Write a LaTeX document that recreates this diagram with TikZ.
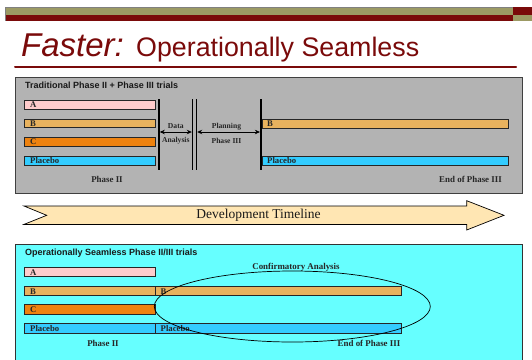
\documentclass[tikz,border=0pt]{standalone}
\usepackage{fontspec}
\setmainfont{Liberation Serif}
\newfontfamily\arialf{Liberation Sans}
\usetikzlibrary{arrows.meta}
\definecolor{bandolive}{HTML}{9C9A64}
\definecolor{dred}{HTML}{7A0A0A}
\definecolor{boxgray}{HTML}{B3B3B3}
\definecolor{boxcyan}{HTML}{66FFFF}
\definecolor{cA}{HTML}{FFCCCC}
\definecolor{cB}{HTML}{E8B25E}
\definecolor{cC}{HTML}{EE820F}
\definecolor{cP}{HTML}{33CCFF}
\definecolor{cTL}{HTML}{FFE6B3}
\tikzset{
  bar/.style={draw=black!85, line width=0.7pt, inner sep=0pt, outer sep=0pt, anchor=north west},
  lbl/.style={font=\fontsize{8.7}{9}\selectfont\bfseries, inner sep=0pt, anchor=base west, text=black!85},
  small/.style={font=\fontsize{7.6}{8}\selectfont\bfseries, inner sep=0pt, text=black!85},
  phase/.style={font=\fontsize{8.9}{10}\selectfont\bfseries, inner sep=0pt, text=black!85},
  boxtitle/.style={font=\arialf\fontsize{9}{10}\selectfont\bfseries, inner sep=0pt, anchor=base west, text=black!90},
  vline/.style={line width=1.6pt, black},
  dblarrow/.style={line width=0.7pt, {Stealth[length=5pt,width=4.5pt]}-{Stealth[length=5pt,width=4.5pt]}},
}
\begin{document}
\begin{tikzpicture}[x=1pt,y=-1pt]
\useasboundingbox (0,0) rectangle (532,359);
\fill[white] (0,0) rectangle (532,359);
% header band
\fill[bandolive] (5,7) rectangle (513,15);
\fill[dred] (5,15) rectangle (513,20.5);
\draw[black!50, line width=0.4pt] (5,20.5) -- (5,7) -- (513,7);
\fill[dred] (513,7) rectangle (532,15);
\fill[bandolive] (513,15) rectangle (532,20.5);
% title
\node[anchor=base west, inner sep=0pt, text=dred, font=\arialf\fontsize{33}{35}\selectfont\itshape] (title1) at (21,56) {Faster:};
\node[anchor=base west, inner sep=0pt, text=dred, font=\arialf\fontsize{26.8}{30}\selectfont] (title2) at (136,56) {Operationally Seamless};
\draw[dred, line width=2pt, line cap=round] (15,67) -- (516,67);

% ===== top gray box =====
\node[draw=black!75, line width=0.8pt, fill=boxgray, anchor=north west, minimum width=507pt, minimum height=116pt, inner sep=0pt] (topbox) at (15,77) {};
\node[boxtitle] (ttitle) at (25,88.6) {Traditional Phase II + Phase III trials};

\node[bar, fill=cA, minimum width=131pt, minimum height=8.5pt] (tA) at (24,100.7) {};
\node[bar, fill=cB, minimum width=131pt, minimum height=8.7pt] (tB) at (24,119) {};
\node[bar, fill=cC, minimum width=131pt, minimum height=9pt] (tC) at (24,137) {};
\node[bar, fill=cP, minimum width=131pt, minimum height=9pt] (tP) at (24,156) {};
\node[bar, fill=cB, minimum width=246pt, minimum height=9pt] (tB3) at (262,119) {};
\node[bar, fill=cP, minimum width=246pt, minimum height=9pt] (tP3) at (262,156) {};
\node[lbl] (tAl) at ([xshift=6pt,yshift=1.6pt]tA.south west) {A};
\node[lbl] (tBl) at ([xshift=6pt,yshift=1.6pt]tB.south west) {B};
\node[lbl] (tCl) at ([xshift=6pt,yshift=1.6pt]tC.south west) {C};
\node[lbl] (tPl) at ([xshift=6pt,yshift=1.6pt]tP.south west) {Placebo};
\node[lbl] (tB3l) at ([xshift=5pt,yshift=1.6pt]tB3.south west) {B};
\node[lbl] (tP3l) at ([xshift=5pt,yshift=1.6pt]tP3.south west) {Placebo};

\coordinate (v1t) at (159,99);   \coordinate (v1b) at (159,170);
\coordinate (v2t) at (192.6,99); \coordinate (v2b) at (192.6,170);
\coordinate (v3t) at (196.4,99); \coordinate (v3b) at (196.4,170);
\coordinate (v4t) at (260.7,99); \coordinate (v4b) at (260.7,170);
\draw[vline] (v1t) -- (v1b);
\draw[vline] (v2t) -- (v2b);
\draw[vline] (v3t) -- (v3b);
\draw[vline] (v4t) -- (v4b);
\coordinate (a1) at (159.8,132);  \coordinate (a2) at (191.8,132);
\coordinate (a3) at (197.2,132);  \coordinate (a4) at (259.9,132);
\draw[dblarrow] (a1) -- (a2);
\draw[dblarrow] (a3) -- (a4);
\node[small] (data) at (175.8,126.5) {Data};
\node[small] (anal) at (175.8,141) {Analysis};
\node[small] (plan) at (226.5,126.5) {Planning};
\node[small] (p3) at (226.5,141) {Phase III};
\node[phase] (tph2) at (107,179.5) {Phase II};
\node[phase, anchor=east] (tend) at (502,179.5) {End of Phase III};

% ===== timeline arrow =====
\draw[black, line width=0.7pt, fill=cTL] (24,206) -- (466.7,206) -- (466.7,200.7) -- (504,215.3)
  -- (466.7,230) -- (466.7,224.4) -- (24,224.4) -- (46.7,215.3) -- cycle;
\node[font=\fontsize{13.5}{15}\selectfont, inner sep=0pt, text=black!90] (tl) at (258.5,215.3) {Development Timeline};

% ===== bottom cyan box =====
\fill[boxcyan] (15,244) rectangle (522,362);
\draw[black!80, line width=0.8pt] (15,362) -- (15,244) -- (522,244) -- (522,362);
\node[boxtitle] (btitle) at (25,255.8) {Operationally Seamless Phase II/III trials};

\node[bar, fill=cA, minimum width=131pt, minimum height=9.6pt] (bA) at (24,267.2) {};
\node[bar, fill=cB, minimum width=131pt, minimum height=9.6pt] (bB) at (24,286) {};
\node[bar, fill=cC, minimum width=131pt, minimum height=9.3pt] (bC) at (24,304.8) {};
\node[bar, fill=cP, minimum width=131pt, minimum height=9.8pt] (bP) at (24,323.2) {};
\node[bar, fill=cB, minimum width=246.7pt, minimum height=9.6pt] (bB3) at (155,286) {};
\node[bar, fill=cP, minimum width=246.7pt, minimum height=9.8pt] (bP3) at (155,323.2) {};
\node[lbl] (bAl) at ([xshift=6pt,yshift=1.3pt]bA.south west) {A};
\node[lbl] (bBl) at ([xshift=6pt,yshift=1.3pt]bB.south west) {B};
\node[lbl] (bCl) at ([xshift=6pt,yshift=1.3pt]bC.south west) {C};
\node[lbl] (bPl) at ([xshift=6pt,yshift=1.3pt]bP.south west) {Placebo};
\node[lbl] (bB3l) at ([xshift=5.5pt,yshift=1.3pt]bB3.south west) {B};
\node[lbl] (bP3l) at ([xshift=5.5pt,yshift=1.3pt]bP3.south west) {Placebo};

\node[phase] (conf) at (296,267.5) {Confirmatory Analysis};
\draw[black, line width=0.7pt] (292.3,306.5) ellipse [x radius=138pt, y radius=35.5pt];
\node[phase] (bph2) at (103,343) {Phase II};
\node[phase, anchor=east] (bend) at (400.5,343) {End of Phase III};
\end{tikzpicture}
\end{document}
